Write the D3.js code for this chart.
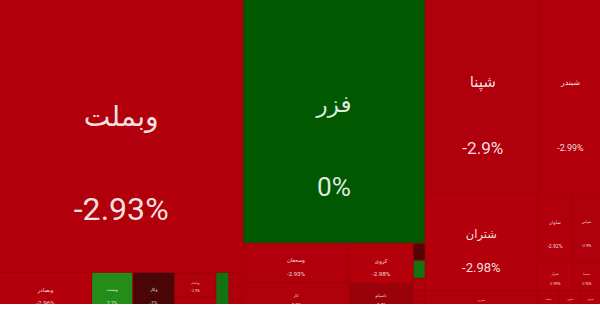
<!DOCTYPE html>
<html>
<head>
<meta charset="utf-8">
<script src="https://cdn.jsdelivr.net/npm/d3@7"></script>
<style>
  html, body { margin: 0; padding: 0; background: #fff; overflow: hidden; }
  svg { display: block; }
</style>
</head>
<body>
<script>
// symbols, in the order the map lays them out
var names = [
  "وبملت", "وبصادر", "وپست", "وکار", "وپاسار", "وسرمد", "وسینا", "وخاور", "وایران", "وملل",
  "فزر", "وسعفان", "کار", "کروی", "تاصیکو", "زقیام", "زکشت", "زماهان", "زفجر", "زشریف",
  "شپنا", "شبندر", "شتران", "شبریز", "شاوان", "شپاس", "شراز", "شسپا", "شنفت", "شبهرن", "شدوص"
];
// group path of each symbol
var groups = [
  "bank", "bank/row", "bank/row", "bank/row", "bank/row/g1", "bank/row/g1", "bank/row", "bank/row/g2", "bank/row/g2", "bank/row/g2",
  "zar", "zar/low/a", "zar/low/a", "zar/low/b", "zar/low/b", "zar/low/c", "zar/low/c", "zar/low/c", "zar/low/c", "zar/low/c",
  "pal/top", "pal/top", "pal/low/a", "pal/low/a", "pal/low/b/m", "pal/low/b/m", "pal/low/b/l", "pal/low/b/l", "pal/low/b/s", "pal/low/b/s", "pal/low/b/s"
];
// market value (area)
var sizes = [
  66096, 3680, 1640, 1680, 984, 656, 520, 196, 182, 182,
  44226, 4134, 3180, 2560, 1856, 204, 216, 144, 132, 132,
  22080, 11520, 10976, 2464, 2450, 1960, 980, 784, 484, 462, 440
];
// daily change, percent
var changes = [
  -2.93, -2.96, 2.2, -1, -2.9, -2.95, 0.8, -2.9, -2.9, -2.9,
  0, -2.93, -2.9, -2.98, -2.5, -1.2, 0.8, -2.9, -2.9, -2.9,
  -2.9, -2.99, -2.98, -2.9, -2.92, -2.9, -2.99, -2.95, -2.9, -2.9, -2.9
];

var width = 600, height = 312, visible = 304;

var color = d3.scaleLinear()
  .domain([-3, -1, 0, 1, 3])
  .range(["#b5000b", "#4a0606", "#005800", "#167a14", "#2e9a1e"])
  .clamp(true);

// build nested tree, keeping first-seen order
var rootData = {key: "root", children: []};
names.forEach(function(n, i){
  var node = rootData;
  groups[i].split("/").forEach(function(k){
    var c = node.children.find(function(c){ return c.key === k && c.children; });
    if(!c){
      c = {key: k, children: []};
      node.children.push(c);
    }
    node = c;
  });
  node.children.push({name: n, size: sizes[i], change: changes[i]});
});

function tile(node, x0, y0, x1, y1){
  (node.depth % 2 ? d3.treemapSlice : d3.treemapDice)(node, x0, y0, x1, y1);
}

var root = d3.hierarchy(rootData).sum(function(d){ return d.size || 0; });
d3.treemap().size([width, height]).tile(tile).paddingInner(1)(root);

var svg = d3.select("body").append("svg")
  .attr("width", width)
  .attr("height", 309);

svg.append("rect")
  .attr("width", width)
  .attr("height", visible)
  .attr("fill", "#a0000a");

var cell = svg.selectAll("g.cell")
  .data(root.leaves())
  .enter()
  .append("g")
  .attr("class", "cell")
  .attr("transform", function(d){ return "translate(" + d.x0 + "," + d.y0 + ")"; });

cell.append("rect")
  .attr("width", function(d){ return d.x1 - d.x0; })
  .attr("height", function(d){ return d.y1 - d.y0; })
  .attr("fill", function(d){ return color(d.data.change); });

function fontSize(d){
  var w = d.x1 - d.x0, h = d.y1 - d.y0;
  return Math.min(w * 0.15, Math.sqrt(w * h) * 0.125, h * 0.16);
}

var labelled = cell.filter(function(d){ return fontSize(d) > 2.5; });

labelled.append("text")
  .attr("x", function(d){ return (d.x1 - d.x0) / 2; })
  .attr("y", function(d){ return (d.y1 - d.y0) * 0.43; })
  .attr("text-anchor", "middle")
  .attr("dominant-baseline", "central")
  .style("font-family", "Roboto, 'DejaVu Sans', sans-serif")
  .style("font-size", function(d){ return (fontSize(d) * 0.88) + "px"; })
  .attr("fill", "#fff")
  .attr("fill-opacity", 0.88)
  .text(function(d){ return d.data.name; });

labelled.append("text")
  .attr("x", function(d){ return (d.x1 - d.x0) / 2; })
  .attr("y", function(d){ return (d.y1 - d.y0) * 0.77; })
  .attr("text-anchor", "middle")
  .attr("dominant-baseline", "central")
  .style("font-family", "Roboto, sans-serif")
  .style("font-size", function(d){ return fontSize(d) + "px"; })
  .attr("fill", "#fff")
  .attr("fill-opacity", 0.88)
  .text(function(d){ return d.data.change + "%"; });

// white strip at the bottom of the screenshot
svg.append("rect")
  .attr("y", visible)
  .attr("width", width)
  .attr("height", 309 - visible)
  .attr("fill", "#fff");
</script>
</body>
</html>
